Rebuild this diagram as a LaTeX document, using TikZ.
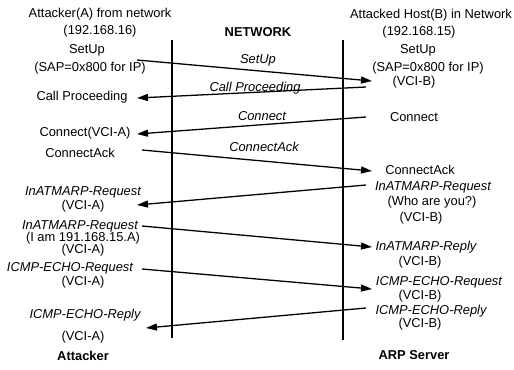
\documentclass[tikz,border=0pt]{standalone}
\usepackage{fontspec}
\setmainfont{Liberation Sans}
\usetikzlibrary{arrows.meta}

\begin{document}
\begin{tikzpicture}[x=0.03cm,y=-0.03cm,
  every node/.style={font=\fontsize{11}{12}\selectfont,inner sep=0pt},
  tag/.style={font=\fontsize{11}{12}\selectfont\itshape},
  head/.style={font=\fontsize{11}{12}\selectfont\bfseries},
  life/.style={line width=1.2pt},
  msg/.style={line width=1.1pt,-{Triangle[length=3.3mm,width=2.1mm]}}]
\useasboundingbox (0,0) rectangle (514,369);

% lifelines
\coordinate (attTop) at (172,40);
\coordinate (attBot) at (172,338);
\coordinate (srvTop) at (343,40);
\coordinate (srvBot) at (343,340);
\draw[life] (attTop)--(attBot);
\draw[life] (srvTop)--(srvBot);

% attacker side
\node (attName) at (100,14) {Attacker(A) from network};
\node (attIP) at (100,31) {(192.168.16)};
\node (aSetup) at (87,50) {SetUp};
\node (aSap) at (90,68) {(SAP=0x800 for IP)};
\node (aCallProc) at (82,97) {Call Proceeding};
\node (aConnect) at (85,133) {Connect(VCI-A)};
\node (aConnAck) at (80,153) {ConnectAck};
\node[tag] (aArpReqIn) at (83,192) {InATMARP-Request};
\node (aVciOne) at (83,206) {(VCI-A)};
\node[tag] (aArpReqOut) at (80,226) {InATMARP-Request};
\node (aIam) at (83,238) {(I am 191.168.15.A)};
\node (aVciTwo) at (83,250) {(VCI-A)};
\node[tag] (aEchoReq) at (70,268) {ICMP-ECHO-Request};
\node (aVciThree) at (83,282) {(VCI-A)};
\node[tag] (aEchoRep) at (85,315) {ICMP-ECHO-Reply};
\node (aVciFour) at (83,337) {(VCI-A)};
\node[head] (attacker) at (83,356) {Attacker};

% network
\node[head] (network) at (258,32) {NETWORK};

% server side
\node (srvName) at (431,15) {Attacked Host(B) in Network};
\node (srvIP) at (419,32) {(192.168.15)};
\node (bSetup) at (418,50) {SetUp};
\node (bSap) at (428,68) {(SAP=0x800 for IP)};
\node (bVciOne) at (414,82) {(VCI-B)};
\node (bConnect) at (414,117) {Connect};
\node (bConnAck) at (420,170) {ConnectAck};
\node[tag] (bArpReq) at (433,187) {InATMARP-Request};
\node (bWho) at (432,202) {(Who are you?)};
\node (bVciTwo) at (421,218) {(VCI-B)};
\node[tag] (bArpRep) at (426,247) {InATMARP-Reply};
\node (bVciThree) at (420,262) {(VCI-B)};
\node[tag] (bEchoReq) at (439,282) {ICMP-ECHO-Request};
\node (bVciFour) at (420,296) {(VCI-B)};
\node[tag] (bEchoRep) at (431,311) {ICMP-ECHO-Reply};
\node (bVciFive) at (420,324) {(VCI-B)};
\node[head] (arpServer) at (414,355) {ARP Server};

% message ends
\coordinate (setupS) at (137,60);
\coordinate (setupE) at (372,81);
\coordinate (procS) at (366,87);
\coordinate (procE) at (137,98);
\coordinate (connS) at (366,117);
\coordinate (connE) at (137,134);
\coordinate (ackS) at (142,150);
\coordinate (ackE) at (372,171);
\coordinate (qInS) at (366,185);
\coordinate (qInE) at (137,205);
\coordinate (qOutS) at (142,226);
\coordinate (qOutE) at (372,247);
\coordinate (echoS) at (142,269);
\coordinate (echoE) at (372,289);
\coordinate (replyS) at (366,308);
\coordinate (replyE) at (146,328);

\draw[msg] (setupS)--(setupE);
\draw[msg] (procS)--(procE);
\draw[msg] (connS)--(connE);
\draw[msg] (ackS)--(ackE);
\draw[msg] (qInS)--(qInE);
\draw[msg] (qOutS)--(qOutE);
\draw[msg] (echoS)--(echoE);
\draw[msg] (replyS)--(replyE);

% message labels
\node[tag] (setupTag) at (258,60) {SetUp};
\node[tag] (procTag) at (255,88) {Call Proceeding};
\node[tag] (connTag) at (262,116) {Connect};
\node[tag] (ackTag) at (264,147) {ConnectAck};
\end{tikzpicture}
\end{document}
